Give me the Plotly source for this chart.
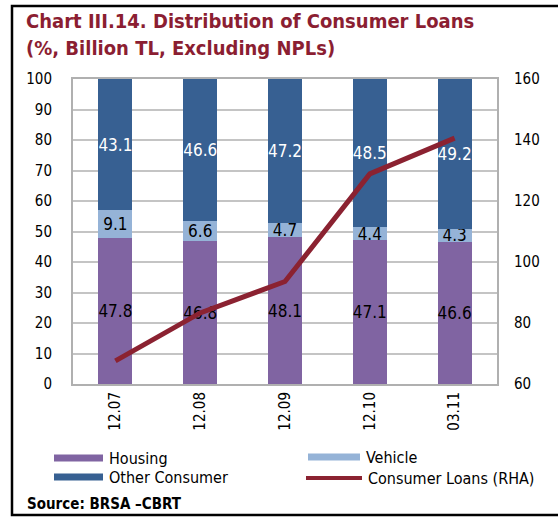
import plotly.graph_objects as go

# Consumer loan composition (%) and total consumer loans (billion TL, right axis)
periods = ["12.07", "12.08", "12.09", "12.10", "03.11"]
housing = [47.8, 46.8, 48.1, 47.1, 46.6]
vehicle = [9.1, 6.6, 4.7, 4.4, 4.3]
other_consumer = [43.1, 46.6, 47.2, 48.5, 49.2]
consumer_loans = [67.6, 83.3, 93.6, 128.9, 140.6]

left_ticks = list(range(0, 101, 10))
right_ticks = list(range(60, 161, 20))

W, H = 558, 518
L, R, T, B = 73, 61, 79, 134
PW, PH = W - L - R, H - T - B

C_HOUSING = "#8064A2"
C_VEHICLE = "#95B3D7"
C_OTHER = "#376092"
C_LINE = "#8B2231"
C_TITLE = "#8B1E32"

FONT = "DejaVu Sans Condensed, DejaVu Sans, sans-serif"


def px(x):
    return (x - L) / PW


def py(y):
    return (H - B - y) / PH


fig = go.Figure()

label_font = dict(size=17, family=FONT)

fig.add_trace(go.Bar(
    x=periods, y=housing, name="Housing", marker=dict(color=C_HOUSING, line=dict(width=0)),
    text=[f"{v:.1f}" for v in housing], textposition="inside",
    insidetextanchor="middle", textangle=0,
    textfont=dict(color="black", **label_font),
))
fig.add_trace(go.Bar(
    x=periods, y=vehicle, name="Vehicle", marker=dict(color=C_VEHICLE, line=dict(width=0)),
    text=[f"{v:.1f}" for v in vehicle], textposition="inside",
    insidetextanchor="middle", textangle=0,
    textfont=dict(color="black", **label_font),
))
fig.add_trace(go.Bar(
    x=periods, y=other_consumer, name="Other Consumer", marker=dict(color=C_OTHER, line=dict(width=0)),
    text=[f"{v:.1f}" for v in other_consumer], textposition="inside",
    insidetextanchor="middle", textangle=0,
    textfont=dict(color="white", **label_font),
))
fig.add_trace(go.Scatter(
    x=periods, y=consumer_loans, name="Consumer Loans (RHA)", yaxis="y2",
    mode="lines", line=dict(color=C_LINE, width=5),
))

shapes = []
annotations = []

# outer frame
shapes.append(dict(type="rect", xref="paper", yref="paper",
                   x0=px(12), x1=px(570), y0=py(515), y1=py(6),
                   line=dict(color="black", width=2.5), fillcolor="rgba(0,0,0,0)",
                   layer="above"))

# legend
legend_items = [
    ("Housing", "bar", C_HOUSING, 54, 103, 458),
    ("Vehicle", "bar", C_VEHICLE, 308, 360, 457),
    ("Other Consumer", "bar", C_OTHER, 54, 103, 477),
    ("Consumer Loans (RHA)", "line", C_LINE, 306, 362, 478),
]
for label, kind, color, x0, x1, yc in legend_items:
    if kind == "bar":
        shapes.append(dict(type="rect", xref="paper", yref="paper",
                           x0=px(x0), x1=px(x1), y0=py(yc + 3.5), y1=py(yc - 3.5),
                           line=dict(width=0), fillcolor=color))
    else:
        shapes.append(dict(type="line", xref="paper", yref="paper",
                           x0=px(x0), x1=px(x1), y0=py(yc), y1=py(yc),
                           line=dict(color=color, width=4)))
    annotations.append(dict(text=label, xref="paper", yref="paper",
                            x=px(x1 + 4), y=py(yc), xanchor="left", yanchor="middle",
                            showarrow=False, font=dict(size=16, color="black", family=FONT)))

# title
annotations.append(dict(
    text="<b>Chart III.14. Distribution of Consumer Loans</b>",
    xref="paper", yref="paper", x=px(24), y=py(21), xanchor="left", yanchor="middle",
    showarrow=False, font=dict(size=20, color=C_TITLE, family=FONT)))
annotations.append(dict(
    text="<b>(%, Billion TL, Excluding NPLs)</b>",
    xref="paper", yref="paper", x=px(24), y=py(48), xanchor="left", yanchor="middle",
    showarrow=False, font=dict(size=20, color=C_TITLE, family=FONT)))

# source
annotations.append(dict(
    text="<b>Source: BRSA \u2013CBRT</b>",
    xref="paper", yref="paper", x=px(25), y=py(504), xanchor="left", yanchor="middle",
    showarrow=False, font=dict(size=15, color="black", family=FONT)))

fig.update_layout(
    width=W, height=H,
    margin=dict(l=L, r=R, t=T, b=B),
    paper_bgcolor="white", plot_bgcolor="white",
    barmode="stack", bargap=0.6,
    showlegend=False,
    uniformtext=dict(minsize=17, mode="show"),
    font=dict(family=FONT, size=15, color="black"),
    shapes=shapes, annotations=annotations,
    xaxis=dict(
        tickangle=-90, showgrid=False, ticks="",
        showline=True, linecolor="#B0B0B0", linewidth=2, mirror=True,
        tickfont=dict(size=15, family=FONT),
    ),
    yaxis=dict(
        range=[0, 100], tickvals=left_ticks, ticks="",
        showgrid=True, gridcolor="#C4C4C4", gridwidth=1.5,
        showline=True, linecolor="#B0B0B0", linewidth=2, mirror=True,
        zeroline=False, ticklabelstandoff=16,
        tickfont=dict(size=15, family=FONT),
    ),
    yaxis2=dict(
        range=[60, 160], tickvals=right_ticks, overlaying="y", side="right",
        showgrid=False, ticks="", zeroline=False, showline=False,
        ticklabelstandoff=16,
        tickfont=dict(size=15, family=FONT),
    ),
)

fig.write_html("out.html")
